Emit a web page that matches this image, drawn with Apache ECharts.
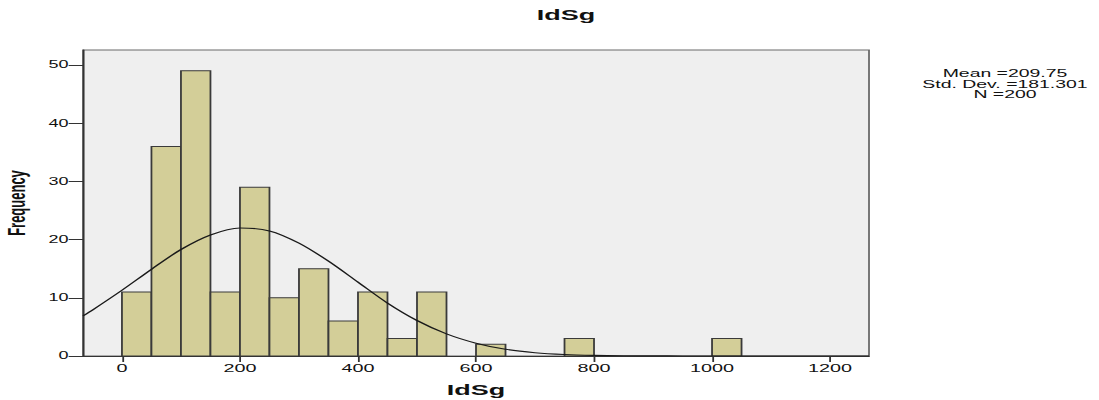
<!DOCTYPE html>
<html><head><meta charset="utf-8">
<script src="https://cdn.jsdelivr.net/npm/echarts@6/dist/echarts.min.js"></script>
<style>
html,body{margin:0;padding:0;background:#fff;overflow:hidden}
#wrap{width:1099px;height:400px;overflow:hidden}
#c{width:611px;height:400px;transform:scaleX(1.79869);transform-origin:0 0}
</style>
</head><body><div id="wrap"><div id="c"></div></div>
<script>
// Histogram data (IdSg), bin width 50
const binStart = [0, 50, 100, 150, 200, 250, 300, 350, 400, 450, 500, 600, 750, 1000];
const binEnd   = [50, 100, 150, 200, 250, 300, 350, 400, 450, 500, 550, 650, 800, 1050];
const counts   = [11, 36, 49, 11, 29, 10, 15, 6, 11, 3, 11, 2, 3, 3];
// Normal curve
const curveX = [-66, -50, 0, 50, 100, 150, 200, 250, 300, 350, 400, 450, 500, 550, 600, 650, 700, 750, 800, 850, 900, 950, 1000, 1100, 1200, 1266];
const curveY = [6.9, 7.9, 11.3, 14.9, 18.3, 20.8, 22.0, 21.5, 19.4, 16.3, 12.7, 9.1, 6.1, 3.8, 2.2, 1.15, 0.57, 0.26, 0.11, 0.04, 0.02, 0.01, 0, 0, 0, 0];
const xTicks = [0, 200, 400, 600, 800, 1000, 1200];
const yTicks = [0, 10, 20, 30, 40, 50];
const statsLines = ['Mean =209.75', 'Std. Dev. =181.301', 'N =200'];
const chartTitle = 'IdSg';
const xName = 'IdSg';
const yName = 'Frequency';

const SX = 1.79869;
const chart = echarts.init(document.getElementById('c'), null, {renderer: 'svg'});
const barData = binStart.map((s, i) => [s, binEnd[i], counts[i]]);
const lineData = curveX.map((x, i) => [x, curveY[i]]);
const FONT = '"Liberation Sans", Arial, sans-serif';

chart.setOption({
  animation: false,
  backgroundColor: '#ffffff',
  grid: {
    left: 83 / SX, right: 611 - 869 / SX, top: 50, bottom: 44,
    outerBoundsMode: 'none', containLabel: false,
    show: true, backgroundColor: '#efefef', borderColor: '#6a6a6a', borderWidth: 1
  },
  graphic: [
    {type: 'text', x: 566 / SX, y: 7, style: {text: chartTitle, align: 'center', verticalAlign: 'top',
      font: 'bold 15px ' + FONT, fill: '#111'}},
    {type: 'text', x: 1005 / SX, y: 68, style: {text: statsLines.join('\n'), align: 'center', verticalAlign: 'top',
      font: '10.8px ' + FONT, lineHeight: 10.5, fill: '#111'}}
  ],
  xAxis: {
    type: 'value', min: -66, max: 1266,
    name: xName, nameLocation: 'middle', nameGap: 26,
    nameTextStyle: {fontFamily: FONT, fontWeight: 'bold', fontSize: 15, color: '#111'},
    splitLine: {show: false},
    axisLine: {show: true, onZero: false, lineStyle: {color: '#333', width: 1}},
    axisTick: {show: true, length: 6, lineStyle: {color: '#333'}, customValues: xTicks},
    axisLabel: {fontFamily: FONT, fontSize: 11, color: '#111', margin: 7, customValues: xTicks,
      formatter: v => String(v)}
  },
  yAxis: {
    type: 'value', min: 0, max: 52.58,
    name: yName, nameLocation: 'middle', nameGap: 26,
    nameTextStyle: {fontFamily: FONT, fontWeight: 'bold', fontSize: 13, color: '#111'},
    splitLine: {show: false},
    axisLine: {show: true, onZero: false, lineStyle: {color: '#333', width: 1}},
    axisTick: {show: true, length: 8, lineStyle: {color: '#333'}, customValues: yTicks},
    axisLabel: {fontFamily: FONT, fontSize: 10, color: '#111', margin: 8, customValues: yTicks,
      formatter: v => String(v)}
  },
  series: [
    {
      type: 'custom', data: barData, encode: {x: [0, 1], y: 2}, clip: true,
      renderItem: function (params, api) {
        const p0 = api.coord([api.value(0), 0]);
        const p1 = api.coord([api.value(1), api.value(2)]);
        return {type: 'rect', shape: {x: p0[0], y: p1[1], width: p1[0] - p0[0], height: p0[1] - p1[1]},
          style: {fill: '#d3ce98', stroke: '#3a3a3a', lineWidth: 1}};
      }
    },
    {
      type: 'line', data: lineData, smooth: 0.3, showSymbol: false, symbol: 'none', clip: true,
      lineStyle: {color: '#1a1a1a', width: 1.1}, z: 5
    }
  ]
});
</script>
</body></html>
